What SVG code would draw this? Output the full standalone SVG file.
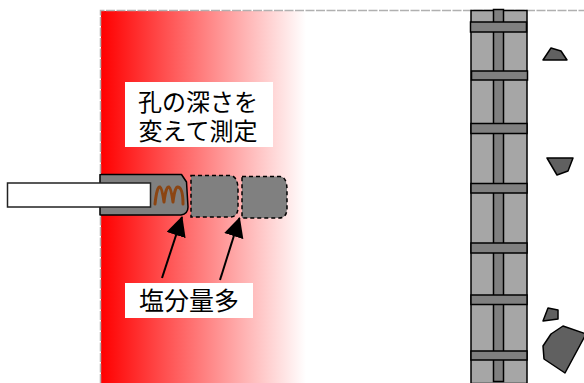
<svg xmlns="http://www.w3.org/2000/svg" width="584" height="383" viewBox="0 0 584 383">
  <defs>
    <linearGradient id="chloride" x1="101" y1="0" x2="306" y2="0" gradientUnits="userSpaceOnUse">
      <stop offset="0" stop-color="#ff0000"/>
      <stop offset="1" stop-color="#ffffff"/>
    </linearGradient>
    <marker id="head" viewBox="0 0 10 10" refX="9" refY="5" markerWidth="10" markerHeight="10" markerUnits="userSpaceOnUse" orient="auto">
      <path d="M0,0 L10,5 L0,10 Z" fill="#000"/>
    </marker>
    <marker id="bighead" viewBox="0 0 20 20" refX="19" refY="10" markerWidth="20" markerHeight="20" markerUnits="userSpaceOnUse" orient="auto">
      <path d="M0,0 L20,10 L0,20 Z" fill="#000"/>
    </marker>
  </defs>
  <style>
    .label { font-family: "Noto Sans CJK JP", "Noto Sans", sans-serif; fill: #000; }
    .col { fill: #a6a6a6; stroke: #000; stroke-width: 1.5; }
    .bar { fill: #808080; stroke: #000; stroke-width: 1.5; }
    .rock { fill: #606060; stroke: #000; stroke-width: 1.5; stroke-linejoin: round; }
    .core { fill: #808080; stroke: #000; stroke-width: 1.5; stroke-dasharray: 4 3; }
  </style>

  <!-- concrete surface with chloride penetration -->
  <rect x="101" y="11" width="205" height="372" fill="url(#chloride)"/>
  <path d="M100.5,383 V10.5 H584" fill="none" stroke="#b0b0b0" stroke-width="1.5" stroke-dasharray="9 1.5"/>

  <!-- reinforcement -->
  <g id="rebar">
    <rect class="col" x="471" y="10.5" width="56" height="373"/>
    <rect class="bar" x="493.5" y="9.5" width="10" height="372"/>
    <rect class="bar" x="470.5" y="22" width="56" height="10"/>
    <rect class="bar" x="471.5" y="71" width="56" height="9"/>
    <rect class="bar" x="471" y="123.5" width="56" height="10"/>
    <rect class="bar" x="471" y="183.5" width="56" height="9.5"/>
    <rect class="bar" x="471" y="243" width="56" height="10"/>
    <rect class="bar" x="471" y="295" width="56" height="9.5"/>
    <rect class="bar" x="471" y="351" width="56" height="9"/>
  </g>

  <!-- aggregate -->
  <g id="stones">
    <polygon class="rock" points="543,60 551,48 561,51 567,60"/>
    <polygon class="rock" points="547,158 573,158 568,171 557,175"/>
    <polygon class="rock" points="543,321 548,308 558,310 558,319"/>
    <polygon class="rock" points="543,346 551,334 563,326 586,334 565,373 544,359"/>
  </g>

  <!-- drill -->
  <g id="drill">
    <path d="M100,174.5 H181.5 L186.5,182 L188,207 Q188,214 181,215 H100 Z" fill="#808080" stroke="#000" stroke-width="1.5" stroke-linejoin="round"/>
    <path d="M155,204 Q157,186 160,187 Q162,188 164,202 Q166,186 169,187 Q171,188 173,202 Q175,186 178,187 Q183,188 183,204" fill="none" stroke="#8b4513" stroke-width="3" stroke-linecap="round" stroke-linejoin="round"/>
    <rect x="7.5" y="183" width="143" height="24" fill="#fff" stroke="#222" stroke-width="1.5"/>
  </g>

  <!-- cut cores -->
  <g id="core1">
    <path class="core" d="M191,175.5 H230 Q238,176 238,190 V207 Q238,217 230,217 H191 Z"/>
  </g>
  <g id="core2">
    <path class="core" d="M242,176.5 H280 Q287,177 287,190 V208 Q287,218 279,218 H242 Z"/>
  </g>

  <!-- labels -->
  <g id="depth-label">
    <rect x="125" y="82" width="148" height="65" fill="#fff"/>
    <text class="label" x="198" y="111" font-size="24" text-anchor="middle">孔の深さを</text>
    <text class="label" x="198" y="140" font-size="24" text-anchor="middle">変えて測定</text>
  </g>
  <g id="chloride-label">
    <rect x="125" y="283" width="128" height="35" fill="#fff"/>
    <text class="label" x="189" y="310" font-size="25" text-anchor="middle">塩分量多</text>
  </g>

  <!-- pointers -->
  <g id="connectors" stroke="#000" stroke-width="2" fill="none">
    <line x1="162" y1="278" x2="182" y2="217" marker-end="url(#bighead)"/>
    <line x1="220" y1="280" x2="239.5" y2="218" marker-end="url(#bighead)"/>
  </g>
</svg>
